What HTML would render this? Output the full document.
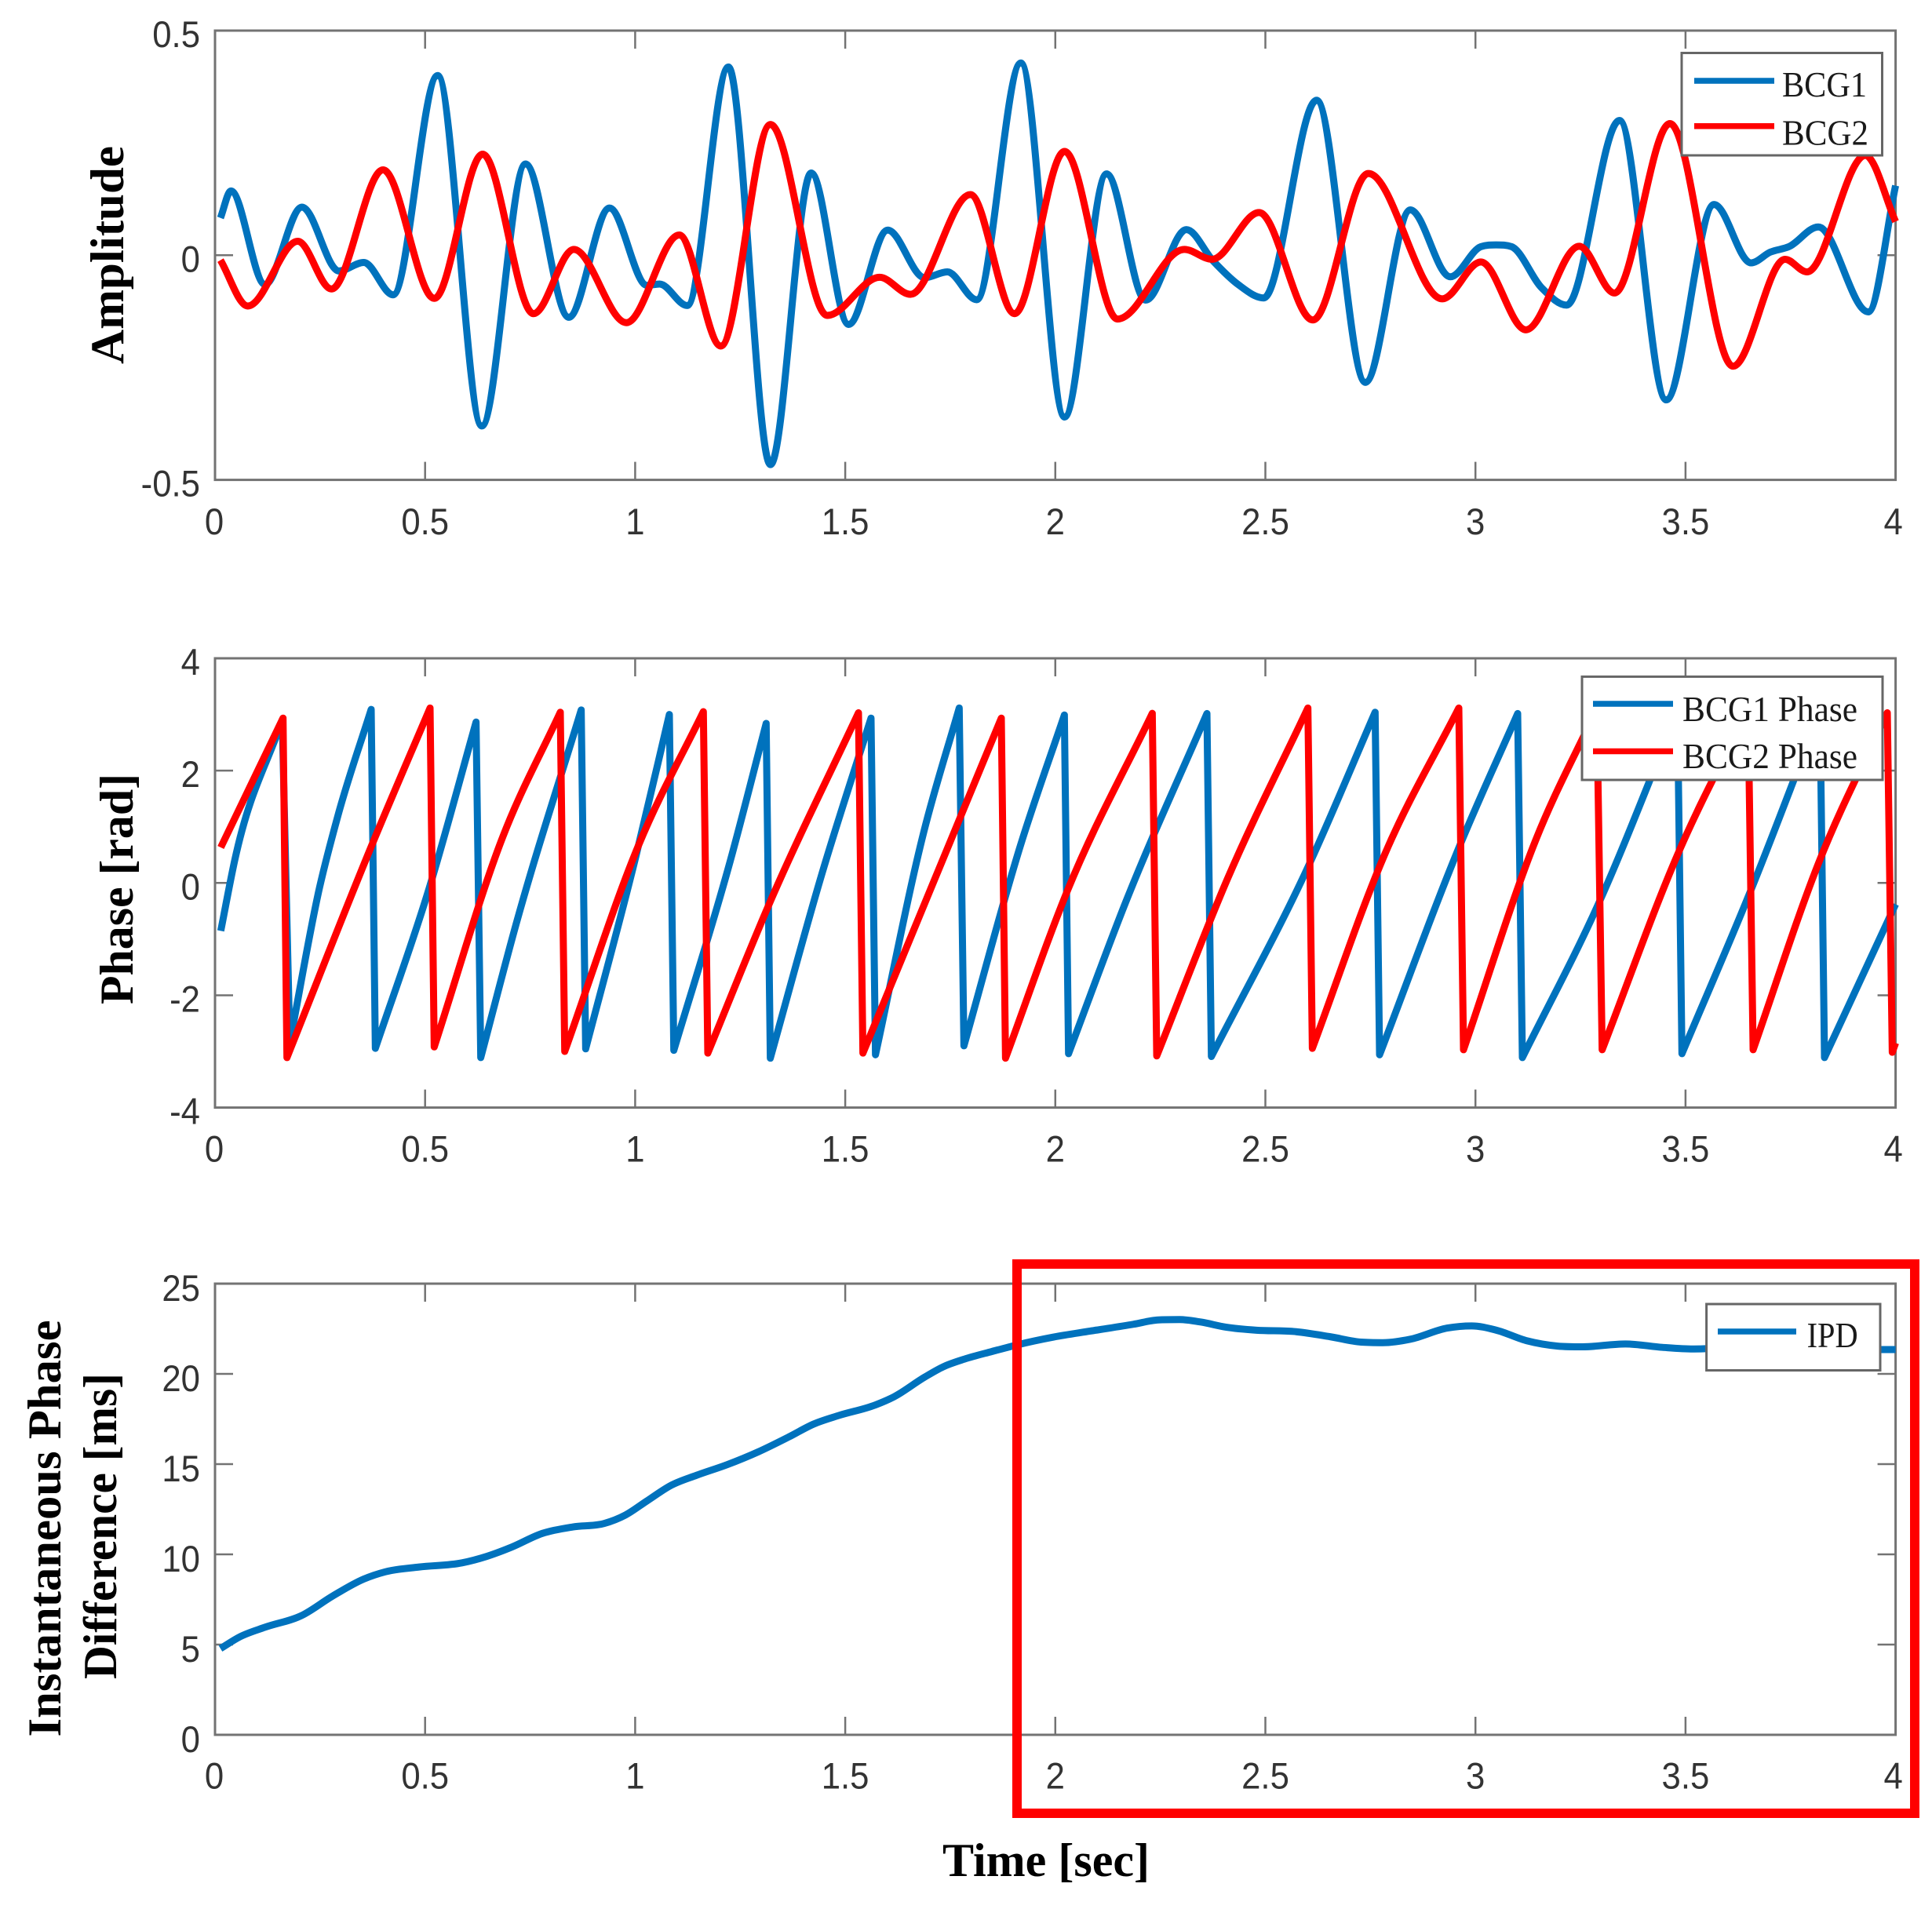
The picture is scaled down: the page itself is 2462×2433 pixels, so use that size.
<!DOCTYPE html>
<html lang="en">
<head>
<meta charset="utf-8">
<title>BCG instantaneous phase difference</title>
<style>
html,body{margin:0;padding:0;background:#fff;}
svg{display:block;}
.tick-label{font-family:"Liberation Sans",Arial,sans-serif;font-size:47px;fill:#333;}
.axis-title{font-family:"Liberation Serif","Times New Roman",serif;font-weight:bold;font-size:60px;fill:#000;}
.legend-text{font-family:"Liberation Serif","Times New Roman",serif;font-size:46px;fill:#1a1a1a;}
</style>
</head>
<body>
<svg id="figure" xmlns="http://www.w3.org/2000/svg" width="2462" height="2433" viewBox="0 0 2462 2433">
  <rect x="0" y="0" width="2462" height="2433" fill="#ffffff"/>
  <g id="panel-amplitude"></g>
  <g id="panel-phase"></g>
  <g id="panel-ipd"></g>

  <text class="axis-title" transform="translate(157 325) rotate(-90)" text-anchor="middle" textLength="278" lengthAdjust="spacingAndGlyphs">Amplitude</text>
  <text class="axis-title" transform="translate(169 1133) rotate(-90)" text-anchor="middle" textLength="294" lengthAdjust="spacingAndGlyphs">Phase [rad]</text>
  <text class="axis-title" transform="translate(77 1948) rotate(-90)" text-anchor="middle" textLength="531" lengthAdjust="spacingAndGlyphs">Instantaneous Phase</text>
  <text class="axis-title" transform="translate(148 1945) rotate(-90)" text-anchor="middle" textLength="390" lengthAdjust="spacingAndGlyphs">Difference [ms]</text>
  <text class="axis-title" x="1333" y="2391" text-anchor="middle" textLength="264" lengthAdjust="spacingAndGlyphs">Time [sec]</text>

  <g>
    <rect x="2143" y="67.5" width="255.5" height="130.5" fill="#fff" stroke="#666" stroke-width="3"/>
    <line x1="2159" y1="103" x2="2261" y2="103" stroke="#0072BD" stroke-width="7.5"/>
    <text class="legend-text" x="2271" y="123" textLength="108" lengthAdjust="spacingAndGlyphs">BCG1</text>
    <line x1="2159" y1="160.7" x2="2261" y2="160.7" stroke="#FF0000" stroke-width="7.5"/>
    <text class="legend-text" x="2271" y="184.6" textLength="110" lengthAdjust="spacingAndGlyphs">BCG2</text>
  </g>
  <g>
    <rect x="2016" y="862.4" width="383" height="131.6" fill="#fff" stroke="#666" stroke-width="3"/>
    <line x1="2030" y1="897" x2="2132" y2="897" stroke="#0072BD" stroke-width="7.5"/>
    <text class="legend-text" x="2144" y="919" textLength="223" lengthAdjust="spacingAndGlyphs">BCG1 Phase</text>
    <line x1="2030" y1="957.5" x2="2132" y2="957.5" stroke="#FF0000" stroke-width="7.5"/>
    <text class="legend-text" x="2144" y="979" textLength="223" lengthAdjust="spacingAndGlyphs">BCG2 Phase</text>
  </g>
  <g>
    <rect x="2174.6" y="1662" width="221.4" height="84.5" fill="#fff" stroke="#666" stroke-width="3"/>
    <line x1="2189" y1="1697" x2="2289" y2="1697" stroke="#0072BD" stroke-width="7.5"/>
    <text class="legend-text" x="2302.6" y="1717" textLength="65" lengthAdjust="spacingAndGlyphs">IPD</text>
  </g>

  <rect x="1296" y="1611" width="1144" height="700" fill="none" stroke="#FF0000" stroke-width="12"/>
</svg>

<script>
// ---------- shared ticks ----------
const timeTicks = [0, 0.5, 1, 1.5, 2, 2.5, 3, 3.5, 4];
const timeTickLabels = ['0', '0.5', '1', '1.5', '2', '2.5', '3', '3.5', '4'];
const amplitudeTicks = [-0.5, 0, 0.5];
const amplitudeTickLabels = ['-0.5', '0', '0.5'];
const phaseTicks = [-4, -2, 0, 2, 4];
const phaseTickLabels = ['-4', '-2', '0', '2', '4'];
const ipdTicks = [0, 5, 10, 15, 20, 25];
const ipdTickLabels = ['0', '5', '10', '15', '20', '25'];

// ---------- amplitude series ----------
const bcg1Times = [0.013,0.038,0.119,0.207,0.295,0.354,0.424,0.53,0.635,0.739,0.842,0.939,1.028,1.058,1.124,1.222,1.322,1.419,1.508,1.601,1.689,1.743,1.813,1.918,2.022,2.122,2.215,2.312,2.376,2.435,2.496,2.622,2.738,2.845,2.94,3.013,3.05,3.086,3.158,3.217,3.343,3.454,3.568,3.656,3.702,3.746,3.816,3.935,4.0];
const bcg1Values = [0.083,0.143,-0.065,0.107,-0.035,-0.016,-0.088,0.40,-0.38,0.203,-0.138,0.105,-0.067,-0.064,-0.112,0.419,-0.466,0.183,-0.154,0.056,-0.05,-0.037,-0.099,0.428,-0.36,0.181,-0.10,0.057,-0.013,-0.065,-0.095,0.345,-0.283,0.101,-0.048,0.019,0.023,0.019,-0.073,-0.111,0.30,-0.322,0.113,-0.017,0.007,0.019,0.063,-0.126,0.155];
const bcg2Times = [0.013,0.078,0.197,0.277,0.40,0.522,0.637,0.758,0.854,0.979,1.105,1.204,1.322,1.457,1.582,1.655,1.798,1.903,2.022,2.148,2.307,2.373,2.485,2.613,2.745,2.921,3.013,3.12,3.247,3.331,3.463,3.613,3.737,3.789,3.928,4.0];
const bcg2Values = [-0.011,-0.113,0.031,-0.075,0.19,-0.096,0.225,-0.13,0.013,-0.15,0.045,-0.202,0.291,-0.134,-0.049,-0.087,0.135,-0.13,0.231,-0.142,0.013,-0.009,0.095,-0.144,0.182,-0.097,-0.015,-0.166,0.02,-0.084,0.293,-0.247,-0.009,-0.037,0.222,0.075];

// ---------- phase series ----------
const bcg1PhaseTimes = [0.0137,0.0467,0.16,0.178,0.249,0.2926,0.3717,0.3816,0.5105,0.6213,0.6325,0.716,0.8716,0.8822,1.0023,1.0814,1.092,1.2265,1.3118,1.3217,1.4444,1.5614,1.572,1.6872,1.7713,1.7825,1.9176,2.0216,2.0315,2.1666,2.3609,2.3715,2.6024,2.7612,2.7718,2.9635,3.1005,3.1117,3.2935,3.481,3.4915,3.6609,3.8202,3.8308,4.0];
const bcg1PhaseValues = [-0.854,0.396,2.9,-2.85,-0.075,1.2,3.09,-2.945,-0.075,2.865,-3.11,-0.75,3.08,-2.954,0.49,3.0,-2.98,0.396,2.84,-3.12,0.16,2.935,-3.06,0.915,3.115,-2.9,0.68,2.99,-3.04,-0.36,3.016,-3.09,0.3,3.04,-3.06,0.68,3.016,-3.11,-0.36,3.05,-3.04,-0.03,3.05,-3.11,-0.38];
const bcg2PhaseTimes = [0.0137,0.1619,0.1712,0.3736,0.5118,0.5217,0.6849,0.8218,0.8324,1.0086,1.1623,1.1729,1.3199,1.5315,1.5421,1.6686,1.8715,1.8815,2.0297,2.2308,2.2414,2.4094,2.6012,2.6118,2.783,2.9604,2.9716,3.144,3.289,3.3016,3.4803,3.649,3.6609,3.8165,3.9803,3.9921,4.0];
const bcg2PhaseValues = [0.632,2.935,-3.11,0.68,3.115,-2.92,0.82,3.04,-3.0,0.68,3.05,-3.03,-0.36,3.03,-3.03,-0.736,2.935,-3.12,-0.123,3.02,-3.08,0.066,3.115,-2.945,0.49,3.115,-2.97,0.774,3.1,-2.97,0.49,3.1,-2.97,0.35,3.03,-3.016,-2.85];

// ---------- instantaneous phase difference series ----------
const ipdTimes = [0.013,0.06,0.119,0.207,0.28,0.354,0.405,0.486,0.588,0.647,0.706,0.779,0.852,0.926,0.977,1.028,1.087,1.146,1.219,1.293,1.366,1.425,1.484,1.572,1.616,1.689,1.733,1.784,1.849,1.908,1.996,2.083,2.186,2.245,2.296,2.347,2.406,2.479,2.567,2.654,2.728,2.779,2.845,2.933,2.991,3.05,3.123,3.196,3.255,3.357,3.445,3.518,3.6,3.8,3.972,4.0];
const ipdValues = [4.78,5.44,5.96,6.62,7.69,8.63,9.03,9.3,9.53,9.89,10.4,11.16,11.52,11.71,12.18,12.96,13.84,14.38,14.97,15.68,16.51,17.22,17.69,18.28,18.73,19.82,20.39,20.82,21.24,21.6,22.04,22.37,22.75,22.99,23.01,22.87,22.59,22.42,22.35,22.06,21.76,21.73,21.92,22.54,22.66,22.42,21.83,21.54,21.5,21.66,21.47,21.38,21.42,21.4,21.35,21.35];

// ---------- drawing ----------
const SVG_NS = 'http://www.w3.org/2000/svg';
const BLUE = '#0072BD';
const RED = '#FF0000';
const AXIS_COLOR = '#737373';
const TICK_LENGTH = 23;
const PLOT_LEFT = 274;
const PLOT_RIGHT = 2415.6;

function xScale(t) {
  return PLOT_LEFT + (t / 4) * (PLOT_RIGHT - PLOT_LEFT);
}
function makeYScale(domainMin, domainMax, top, bottom) {
  return function (v) {
    return bottom - ((v - domainMin) / (domainMax - domainMin)) * (bottom - top);
  };
}
function shape(tag, attrs) {
  const el = document.createElementNS(SVG_NS, tag);
  Object.keys(attrs).forEach(function (k) { el.setAttribute(k, attrs[k]); });
  return el;
}
function tickLine(parent, x1, y1, x2, y2, label) {
  const el = shape('line', { x1: x1, y1: y1, x2: x2, y2: y2, stroke: AXIS_COLOR, 'stroke-width': 2.5 });
  
  
  parent.appendChild(el);
}
function tickText(parent, x, y, anchor, content, label) {
  const el = shape('text', { transform: 'translate(' + x + ' ' + y + ') scale(0.93 1)', 'text-anchor': anchor, 'class': 'tick-label' });
  el.textContent = content;
  
  
  parent.appendChild(el);
}
// Cubic segments through the read-off samples; flat at local extrema.
function curveSegments(px, py) {
  const n = px.length;
  if (n < 3) return 'L' + px[n - 1].toFixed(2) + ' ' + py[n - 1].toFixed(2);
  const slopes = [];
  for (let i = 0; i < n - 1; i++) slopes.push((py[i + 1] - py[i]) / (px[i + 1] - px[i]));
  const m = [slopes[0]];
  for (let i = 1; i < n - 1; i++) {
    if (slopes[i - 1] * slopes[i] <= 0) {
      m.push(0);
    } else {
      const h0 = px[i] - px[i - 1];
      const h1 = px[i + 1] - px[i];
      const mid = (h1 * slopes[i - 1] + h0 * slopes[i]) / (h0 + h1);
      const limit = 3 * Math.min(Math.abs(slopes[i - 1]), Math.abs(slopes[i]));
      m.push(Math.sign(mid) * Math.min(Math.abs(mid), limit));
    }
  }
  m.push(slopes[n - 2]);
  let d = '';
  for (let i = 0; i < n - 1; i++) {
    const h = (px[i + 1] - px[i]) / 3;
    d += 'C' + (px[i] + h).toFixed(2) + ' ' + (py[i] + m[i] * h).toFixed(2) + ' ' +
      (px[i + 1] - h).toFixed(2) + ' ' + (py[i + 1] - m[i + 1] * h).toFixed(2) + ' ' +
      px[i + 1].toFixed(2) + ' ' + py[i + 1].toFixed(2);
  }
  return d;
}
function smoothPath(times, values, yScale) {
  const px = times.map(xScale);
  const py = values.map(yScale);
  return 'M' + px[0].toFixed(2) + ' ' + py[0].toFixed(2) + curveSegments(px, py);
}
// Sawtooth path: each rising ramp is a soft curve, each wrap is a straight drop.
function sawtoothPath(times, values, yScale) {
  const px = times.map(xScale);
  const py = values.map(yScale);
  let d = 'M' + px[0].toFixed(2) + ' ' + py[0].toFixed(2);
  let start = 0;
  for (let i = 1; i <= values.length; i++) {
    if (i === values.length || values[i] < values[i - 1]) {
      if (i - 1 > start) d += curveSegments(px.slice(start, i), py.slice(start, i));
      if (i < values.length) d += 'L' + px[i].toFixed(2) + ' ' + py[i].toFixed(2);
      start = i;
    }
  }
  return d;
}
function seriesPath(parent, d, color, label) {
  const el = shape('path', { d: d, fill: 'none', stroke: color, 'stroke-width': 9, 'stroke-linejoin': 'round', 'stroke-linecap': 'butt' });
  
  
  parent.appendChild(el);
}
function drawAxes(parent, top, bottom, yScale, yTicks, yLabels, xLabelBaseline, yLabelOffset, prefix) {
  const frame = shape('rect', { x: PLOT_LEFT, y: top, width: PLOT_RIGHT - PLOT_LEFT, height: bottom - top, fill: 'none', stroke: AXIS_COLOR, 'stroke-width': 3 });
  
  
  parent.appendChild(frame);
  timeTicks.forEach(function (t, i) {
    const x = xScale(t);
    if (i > 0 && i < timeTicks.length - 1) {
      tickLine(parent, x, top, x, top + TICK_LENGTH, prefix + '-x-tick-top');
      tickLine(parent, x, bottom, x, bottom - TICK_LENGTH, prefix + '-x-tick-bottom');
    }
    tickText(parent, i === timeTicks.length - 1 ? x - 3 : (i === 0 ? x - 1 : x), xLabelBaseline, 'middle', timeTickLabels[i], prefix + '-x-tick-label');
  });
  yTicks.forEach(function (v, i) {
    const y = yScale(v);
    if (i > 0 && i < yTicks.length - 1) {
      tickLine(parent, PLOT_LEFT, y, PLOT_LEFT + TICK_LENGTH, y, prefix + '-y-tick-left');
      tickLine(parent, PLOT_RIGHT, y, PLOT_RIGHT - TICK_LENGTH, y, prefix + '-y-tick-right');
    }
    tickText(parent, 255, y + yLabelOffset, 'end', yLabels[i], prefix + '-y-tick-label');
  });
}

const amplitudeY = makeYScale(-0.5, 0.5, 39, 611.6);
const amplitudePanel = document.getElementById('panel-amplitude');
drawAxes(amplitudePanel, 39, 611.6, amplitudeY, amplitudeTicks, amplitudeTickLabels, 681, 21, 'amplitude');
seriesPath(amplitudePanel, smoothPath(bcg1Times, bcg1Values, amplitudeY), BLUE, 'bcg1-line');
seriesPath(amplitudePanel, smoothPath(bcg2Times, bcg2Values, amplitudeY), RED, 'bcg2-line');

const phaseY = makeYScale(-4, 4, 839, 1411.6);
const phasePanel = document.getElementById('panel-phase');
drawAxes(phasePanel, 839, 1411.6, phaseY, phaseTicks, phaseTickLabels, 1480.4, 21, 'phase');
seriesPath(phasePanel, sawtoothPath(bcg1PhaseTimes, bcg1PhaseValues, phaseY), BLUE, 'bcg1-phase-line');
seriesPath(phasePanel, sawtoothPath(bcg2PhaseTimes, bcg2PhaseValues, phaseY), RED, 'bcg2-phase-line');

const ipdY = makeYScale(0, 25, 1636, 2211);
const ipdPanel = document.getElementById('panel-ipd');
drawAxes(ipdPanel, 1636, 2211, ipdY, ipdTicks, ipdTickLabels, 2279.7, 22, 'ipd');
seriesPath(ipdPanel, smoothPath(ipdTimes, ipdValues, ipdY), BLUE, 'ipd-line');
</script>
</body>
</html>
